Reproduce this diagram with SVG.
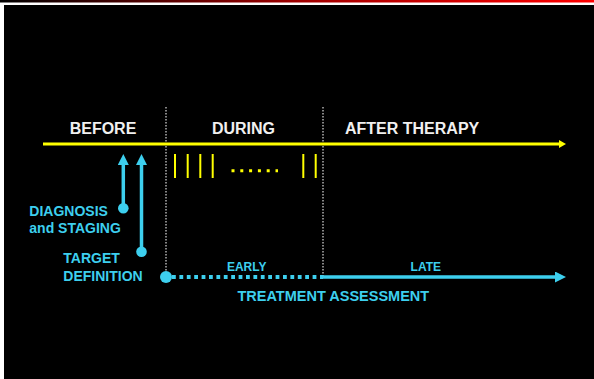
<svg xmlns="http://www.w3.org/2000/svg" width="594" height="379" viewBox="0 0 594 379">
<defs>
<linearGradient id="topbar" x1="0" y1="0" x2="1" y2="0">
<stop offset="0" stop-color="#000000"/>
<stop offset="0.5" stop-color="#a00000"/>
<stop offset="1" stop-color="#ff0000"/>
</linearGradient>
<marker id="yhead" markerUnits="userSpaceOnUse" markerWidth="7" markerHeight="8" refX="0" refY="4" orient="auto">
<path d="M0,0 L7,4 L0,8 z" fill="#ffff00"/>
</marker>
<marker id="chead" markerUnits="userSpaceOnUse" markerWidth="11" markerHeight="11" refX="0" refY="5.5" orient="auto">
<path d="M0,0 L11,5.5 L0,11 z" fill="#3dcfee"/>
</marker>
</defs>
<style>
.hdr{font-family:"Liberation Sans",Arial,sans-serif;font-weight:bold;font-size:16px;fill:#f0f0f0}
.lbl{font-family:"Liberation Sans",Arial,sans-serif;font-weight:bold;font-size:14px;fill:#3dcfee}
.sm{font-family:"Liberation Sans",Arial,sans-serif;font-weight:bold;font-size:12px;fill:#3dcfee}
.sep{stroke:#dcdcdc;stroke-width:1.2;stroke-dasharray:1.5 1.5;fill:none}
.tick{stroke:#ffff00;stroke-width:2}
.cy{stroke:#3dcfee;stroke-width:3.5;fill:none}
.dot{fill:#3dcfee}
</style>
<rect x="0" y="0" width="594" height="379" fill="#ffffff"/>
<rect x="0" y="0" width="594" height="2.5" fill="url(#topbar)"/>
<rect x="4" y="5" width="590" height="374" fill="#000000"/>

<g id="separators">
<line class="sep" x1="166" y1="107" x2="166" y2="277"/>
<line class="sep" x1="323" y1="107" x2="323" y2="277"/>
</g>

<g id="headers">
<text class="hdr" x="103" y="134" text-anchor="middle">BEFORE</text>
<text class="hdr" x="243.5" y="134" text-anchor="middle">DURING</text>
<text class="hdr" x="345" y="134">AFTER THERAPY</text>
</g>

<g id="connectors">
<line x1="43" y1="144" x2="559" y2="144" stroke="#ffff00" stroke-width="3" marker-end="url(#yhead)"/>
<line class="cy" x1="123.3" y1="208" x2="123.3" y2="165" marker-end="url(#chead)"/>
<line class="cy" x1="141.5" y1="251.5" x2="141.5" y2="165" marker-end="url(#chead)"/>
<line x1="172" y1="277" x2="323" y2="277" stroke="#3dcfee" stroke-width="4" stroke-dasharray="3.8 3.6"/>
<line class="cy" x1="323" y1="277" x2="555" y2="277" marker-end="url(#chead)"/>
</g>

<g id="treatment-ticks">
<line class="tick" x1="175" y1="154" x2="175" y2="178"/>
<line class="tick" x1="187.7" y1="154" x2="187.7" y2="178"/>
<line class="tick" x1="200.3" y1="154" x2="200.3" y2="178"/>
<line class="tick" x1="212.7" y1="154" x2="212.7" y2="178"/>
<line x1="231.5" y1="170.7" x2="278" y2="170.7" stroke="#ffff00" stroke-width="3" stroke-dasharray="3 5.8"/>
<line class="tick" x1="303.3" y1="154" x2="303.3" y2="178"/>
<line class="tick" x1="315.7" y1="154" x2="315.7" y2="178"/>
</g>

<g id="diagnosis">
<circle class="dot" cx="123.3" cy="208.3" r="5.3"/>
<text class="lbl" x="29.3" y="216">DIAGNOSIS</text>
<text class="lbl" x="29.3" y="233.3">and STAGING</text>
</g>

<g id="target">
<circle class="dot" cx="141.5" cy="251.7" r="5.3"/>
<text class="lbl" x="63.3" y="262.7">TARGET</text>
<text class="lbl" x="63.3" y="280.7">DEFINITION</text>
</g>

<g id="assessment">
<circle class="dot" cx="166" cy="277" r="6"/>
<text class="sm" x="246.7" y="270.7" text-anchor="middle">EARLY</text>
<text class="sm" x="425.8" y="270.7" text-anchor="middle">LATE</text>
<text class="lbl" x="333.3" y="301" text-anchor="middle" style="font-size:14.5px">TREATMENT ASSESSMENT</text>
</g>
</svg>
